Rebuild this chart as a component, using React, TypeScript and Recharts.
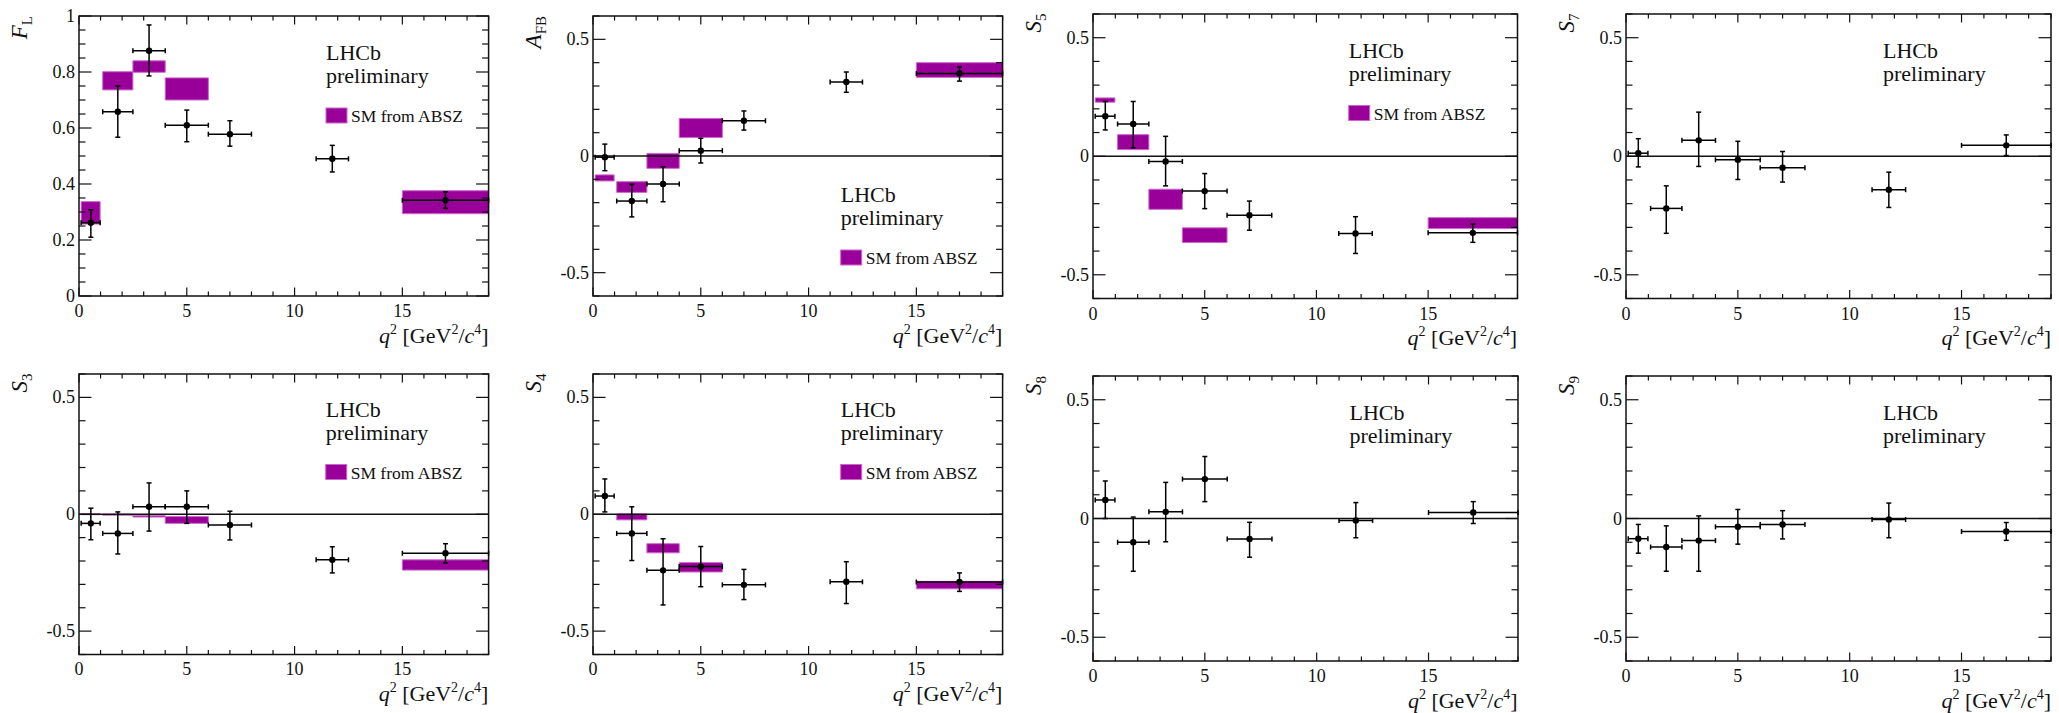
import { ScatterChart, Scatter, XAxis, YAxis, ErrorBar, ReferenceArea, ReferenceLine } from 'recharts';

const FONT = '"Liberation Serif", "Times New Roman", serif';
const INK = '#111';
const SM_FILL = '#990099';
const SM_EDGE = '#cc66cc';

// q2 bins and mean q2 of each bin
const q2Lo = [0.1, 1.1, 2.5, 4, 6, 11, 15];
const q2Hi = [0.98, 2.5, 4, 6, 8, 12.5, 19];
const q2Mid = [0.55, 1.8, 3.25, 5.0, 7.0, 11.75, 17.0];

const xTicks = [0, 1, 2, 3, 4, 5, 6, 7, 8, 9, 10, 11, 12, 13, 14, 15, 16, 17, 18, 19];
const flTicks = [0, 0.05, 0.1, 0.15, 0.2, 0.25, 0.3, 0.35, 0.4, 0.45, 0.5, 0.55, 0.6, 0.65, 0.7, 0.75, 0.8, 0.85, 0.9, 0.95, 1];
const symTicks = [-0.6, -0.5, -0.4, -0.3, -0.2, -0.1, 0, 0.1, 0.2, 0.3, 0.4, 0.5, 0.6];

// F_L
const flVal = [0.262, 0.658, 0.876, 0.61, 0.578, 0.49, 0.342];
const flUp = [0.046, 0.092, 0.092, 0.054, 0.048, 0.048, 0.03];
const flDn = [0.052, 0.091, 0.09, 0.059, 0.043, 0.047, 0.029];
const flSmLo = [0.257, 0.736, 0.799, 0.7, null, null, 0.294];
const flSmHi = [0.337, 0.801, 0.84, 0.779, null, null, 0.376];

// A_FB
const afbVal = [-0.005, -0.193, -0.12, 0.023, 0.151, 0.317, 0.354];
const afbUp = [0.056, 0.072, 0.074, 0.053, 0.042, 0.043, 0.027];
const afbDn = [0.058, 0.068, 0.076, 0.053, 0.04, 0.044, 0.033];
const afbSmLo = [-0.107, -0.156, -0.053, 0.079, null, null, 0.337];
const afbSmHi = [-0.081, -0.11, 0.011, 0.161, null, null, 0.4];

// S5
const s5Val = [0.169, 0.136, -0.022, -0.147, -0.249, -0.326, -0.323];
const s5Up = [0.062, 0.095, 0.106, 0.074, 0.06, 0.071, 0.037];
const s5Dn = [0.058, 0.1, 0.103, 0.074, 0.063, 0.084, 0.04];
const s5SmLo = [0.228, 0.028, -0.224, -0.364, null, null, -0.305];
const s5SmHi = [0.246, 0.091, -0.139, -0.302, null, null, -0.259];

// S7
const s7Val = [0.013, -0.22, 0.067, -0.015, -0.048, -0.141, 0.046];
const s7Up = [0.061, 0.095, 0.119, 0.078, 0.068, 0.074, 0.044];
const s7Dn = [0.058, 0.105, 0.11, 0.083, 0.061, 0.075, 0.043];

// S3
const s3Val = [-0.039, -0.082, 0.032, 0.032, -0.046, -0.195, -0.167];
const s3Up = [0.065, 0.092, 0.102, 0.068, 0.059, 0.056, 0.041];
const s3Dn = [0.07, 0.088, 0.104, 0.071, 0.064, 0.056, 0.041];
const s3SmLo = [-0.002, -0.004, -0.012, -0.039, null, null, -0.239];
const s3SmHi = [0.002, 0.0, -0.006, -0.01, null, null, -0.195];

// S4
const s4Val = [0.078, -0.082, -0.24, -0.224, -0.302, -0.289, -0.29];
const s4Up = [0.073, 0.114, 0.135, 0.086, 0.066, 0.086, 0.039];
const s4Dn = [0.068, 0.116, 0.148, 0.086, 0.063, 0.093, 0.04];
const s4SmLo = [null, -0.024, -0.165, -0.247, null, null, -0.319];
const s4SmHi = [null, 0.001, -0.126, -0.207, null, null, -0.287];

// S8
const s8Val = [0.078, -0.1, 0.028, 0.166, -0.086, -0.008, 0.025];
const s8Up = [0.08, 0.106, 0.124, 0.095, 0.07, 0.075, 0.046];
const s8Dn = [0.078, 0.122, 0.126, 0.095, 0.077, 0.073, 0.046];

// S9
const s9Val = [-0.085, -0.12, -0.093, -0.035, -0.025, -0.004, -0.055];
const s9Up = [0.06, 0.089, 0.104, 0.073, 0.058, 0.069, 0.038];
const s9Dn = [0.061, 0.102, 0.129, 0.073, 0.061, 0.077, 0.037];

const noSm = [null, null, null, null, null, null, null];

type Box = { left: number; top: number; width: number; height: number };
type PanelDef = {
  sym: string;
  sub: string;
  box: Box;
  domain: [number, number];
  ticks: number[];
  major: number;
  val: number[];
  up: number[];
  dn: number[];
  smLo: (number | null)[];
  smHi: (number | null)[];
  zero: boolean;
  tagDy: number; // LHCb baseline below the frame top
  sm: boolean;
  tagDx: number;
};

const panels: PanelDef[] = [
  { sym: 'F', sub: 'L', box: { left: 79, top: 16, width: 409.6, height: 280 }, domain: [0, 1], ticks: flTicks, major: 0.2, val: flVal, up: flUp, dn: flDn, smLo: flSmLo, smHi: flSmHi, zero: false, tagDy: 44, sm: true, tagDx: 247 },
  { sym: 'A', sub: 'FB', box: { left: 592.7, top: 16, width: 409.6, height: 280 }, domain: [-0.6, 0.6], ticks: symTicks, major: 0.5, val: afbVal, up: afbUp, dn: afbDn, smLo: afbSmLo, smHi: afbSmHi, zero: true, tagDy: 186, sm: true, tagDx: 248 },
  { sym: 'S', sub: '5', box: { left: 1092.7, top: 13.5, width: 424.5, height: 284.5 }, domain: [-0.6, 0.6], ticks: symTicks, major: 0.5, val: s5Val, up: s5Up, dn: s5Dn, smLo: s5SmLo, smHi: s5SmHi, zero: true, tagDy: 44, sm: true, tagDx: 256 },
  { sym: 'S', sub: '7', box: { left: 1626, top: 13.5, width: 425, height: 284.5 }, domain: [-0.6, 0.6], ticks: symTicks, major: 0.5, val: s7Val, up: s7Up, dn: s7Dn, smLo: noSm, smHi: noSm, zero: true, tagDy: 44, sm: false, tagDx: 257 },
  { sym: 'S', sub: '3', box: { left: 78.7, top: 373.5, width: 409.6, height: 280.5 }, domain: [-0.6, 0.6], ticks: symTicks, major: 0.5, val: s3Val, up: s3Up, dn: s3Dn, smLo: s3SmLo, smHi: s3SmHi, zero: true, tagDy: 43, sm: true, tagDx: 247 },
  { sym: 'S', sub: '4', box: { left: 592.7, top: 373.5, width: 409.6, height: 280.5 }, domain: [-0.6, 0.6], ticks: symTicks, major: 0.5, val: s4Val, up: s4Up, dn: s4Dn, smLo: s4SmLo, smHi: s4SmHi, zero: true, tagDy: 43, sm: true, tagDx: 248 },
  { sym: 'S', sub: '8', box: { left: 1092.5, top: 376, width: 425, height: 285 }, domain: [-0.6, 0.6], ticks: symTicks, major: 0.5, val: s8Val, up: s8Up, dn: s8Dn, smLo: noSm, smHi: noSm, zero: true, tagDy: 44, sm: false, tagDx: 257 },
  { sym: 'S', sub: '9', box: { left: 1626, top: 376, width: 425, height: 285 }, domain: [-0.6, 0.6], ticks: symTicks, major: 0.5, val: s9Val, up: s9Up, dn: s9Dn, smLo: noSm, smHi: noSm, zero: true, tagDy: 44, sm: false, tagDx: 257 },
];

const PAD_L = 70;
const PAD_T = 10;
const PAD_R = 10;
const PAD_B = 60;

const isMajor = (v: number, step: number) => Math.abs(v / step - Math.round(v / step)) < 1e-6;

function Panel({ p }: { p: PanelDef }) {
  const { left, top, width, height } = p.box;
  const rows = q2Mid.map((x, i) => ({
    x,
    y: p.val[i],
    ex: [x - q2Lo[i], q2Hi[i] - x],
    ey: [p.dn[i], p.up[i]],
  }));
  const plotL = PAD_L;
  const plotR = PAD_L + width;
  const plotT = PAD_T;
  const plotB = PAD_T + height;

  const xTick = (t: any) => {
    const v = t.payload.value;
    const major = isMajor(v, 5);
    const len = major ? 8.5 : 4.5;
    return (
      <g>
        <line x1={t.x} x2={t.x} y1={plotB} y2={plotB - len} stroke={INK} strokeWidth={1.2} />
        <line x1={t.x} x2={t.x} y1={plotT} y2={plotT + len} stroke={INK} strokeWidth={1.2} />
        {major && (
          <text x={t.x} y={plotB + 21} textAnchor="middle" fontFamily={FONT} fontSize={18} fill={INK}>
            {v}
          </text>
        )}
      </g>
    );
  };

  const yTick = (t: any) => {
    const v = t.payload.value;
    const major = isMajor(v, p.major) && v > p.domain[0] - 1e-9 && v < p.domain[1] + 1e-9 && !(p.domain[1] === 0.6 && Math.abs(v) > 0.55);
    const len = major ? 12.5 : 6.5;
    return (
      <g>
        <line x1={plotL} x2={plotL + len} y1={t.y} y2={t.y} stroke={INK} strokeWidth={1.2} />
        <line x1={plotR - len} x2={plotR} y1={t.y} y2={t.y} stroke={INK} strokeWidth={1.2} />
        {major && (
          <text x={plotL - 4} y={t.y + 6} textAnchor="end" fontFamily={FONT} fontSize={18} fill={INK}>
            {String(v)}
          </text>
        )}
      </g>
    );
  };

  return (
    <div style={{ position: 'absolute', left: left - PAD_L, top: top - PAD_T }}>
      <ScatterChart
        width={width + PAD_L + PAD_R}
        height={height + PAD_T + PAD_B}
        margin={{ top: PAD_T, right: PAD_R, bottom: 0, left: 0 }}
      >
        <XAxis
          type="number"
          dataKey="x"
          domain={[0, 19]}
          ticks={xTicks}
          interval={0}
          height={PAD_B}
          axisLine={false}
          tickLine={false}
          tick={xTick}
          allowDataOverflow
        />
        <YAxis
          type="number"
          dataKey="y"
          domain={p.domain}
          ticks={p.ticks}
          interval={0}
          width={PAD_L}
          axisLine={false}
          tickLine={false}
          tick={yTick}
          allowDataOverflow
        />
        {q2Lo.map((lo, i) =>
          p.smLo[i] === null ? null : (
            <ReferenceArea
              key={i}
              x1={lo}
              x2={q2Hi[i]}
              y1={p.smLo[i] as number}
              y2={p.smHi[i] as number}
              fill={SM_FILL}
              fillOpacity={1}
              stroke={SM_EDGE}
              strokeWidth={1}
            />
          )
        )}
        {p.zero && <ReferenceLine y={0} stroke={INK} strokeWidth={1.3} />}
        <ReferenceArea x1={0} x2={19} y1={p.domain[0]} y2={p.domain[1]} fill="none" stroke={INK} strokeWidth={1.5} />
        <Scatter
          data={rows}
          isAnimationActive={false}
          shape={(s: any) => <circle cx={s.cx} cy={s.cy} r={3.2} fill="#000" />}
        >
          <ErrorBar dataKey="ex" direction="x" width={2.5} stroke="#000" strokeWidth={1.5} isAnimationActive={false} />
          <ErrorBar dataKey="ey" direction="y" width={2.5} stroke="#000" strokeWidth={1.5} isAnimationActive={false} />
        </Scatter>
      </ScatterChart>
    </div>
  );
}

function Labels({ p }: { p: PanelDef }) {
  const { left, top, width, height } = p.box;
  const right = left + width;
  const bottom = top + height;
  const ylx = left - 52;
  const tx = left + p.tagDx;
  const ty = top + p.tagDy;
  return (
    <g fontFamily={FONT} fill={INK}>
      <text transform={`rotate(-90 ${ylx} ${top})`} x={ylx} y={top} textAnchor="end" fontSize={23}>
        <tspan fontStyle="italic">{p.sym}</tspan>
        <tspan dy={5} fontSize={15}>{p.sub}</tspan>
      </text>
      <text x={right} y={bottom + 47} textAnchor="end" fontSize={22}>
        <tspan fontStyle="italic">q</tspan>
        <tspan dy={-9} fontSize={14}>2</tspan>
        <tspan dy={9}>{' [GeV'}</tspan>
        <tspan dy={-9} fontSize={14}>2</tspan>
        <tspan dy={9}>/</tspan>
        <tspan fontStyle="italic">c</tspan>
        <tspan dy={-9} fontSize={14}>4</tspan>
        <tspan dy={9}>]</tspan>
      </text>
      <text x={tx} y={ty} fontSize={22}>LHCb</text>
      <text x={tx} y={ty + 23} fontSize={22}>preliminary</text>
      {p.sm && (
        <g>
          <rect x={tx} y={ty + 48} width={21} height={15} fill={SM_FILL} stroke={SM_EDGE} strokeWidth={1} />
          <text x={tx + 25} y={ty + 62} fontSize={17.5}>SM from ABSZ</text>
        </g>
      )}
    </g>
  );
}

export default function App() {
  return (
    <div style={{ position: 'absolute', left: 0, top: 0, width: 2059, height: 713, background: '#fff', overflow: 'hidden' }}>
      {panels.map((p, i) => (
        <Panel key={i} p={p} />
      ))}
      <svg width={2059} height={713} style={{ position: 'absolute', left: 0, top: 0, pointerEvents: 'none' }}>
        {panels.map((p, i) => (
          <Labels key={i} p={p} />
        ))}
      </svg>
    </div>
  );
}
